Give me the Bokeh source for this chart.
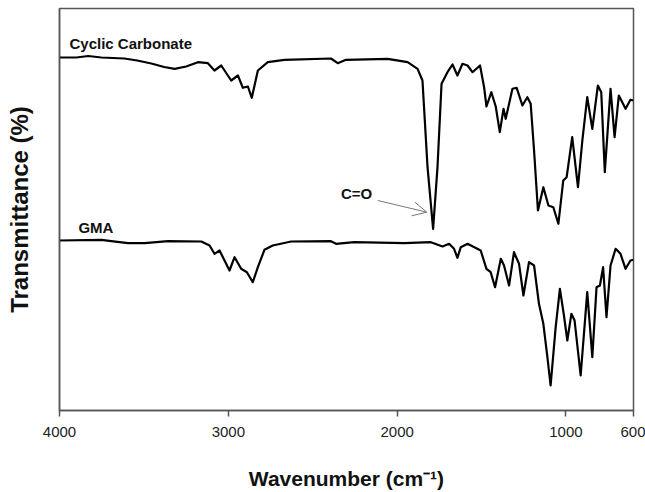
from bokeh.plotting import figure
from bokeh.models import Range1d, FixedTicker, Label, Arrow, OpenHead
from bokeh.embed import file_html
from bokeh.resources import INLINE

# Wavenumber (cm-1) and transmittance (arbitrary offset units)
cc_wn = [4000, 3900, 3830, 3752, 3616, 3540, 3456, 3380, 3318, 3250, 3180, 3121, 3082, 3042, 2983, 2943,
         2914, 2884, 2861, 2825, 2766, 2668, 2392, 2352, 2303, 2056, 1938, 1879, 1850,
         1820, 1787, 1761, 1737, 1702, 1672, 1643, 1613, 1583, 1554, 1509, 1485, 1471,
         1442, 1416, 1392, 1370, 1357, 1317, 1292, 1258, 1229, 1209, 1189, 1166, 1134,
         1104, 1075, 1045, 1016, 996, 963, 929, 903, 874, 844, 811, 791, 770, 736, 712,
         687, 647, 618, 600]
cc_t = [353, 353, 354.5, 353, 352, 350, 347, 343.5, 341.7, 344, 348.3, 347.3, 340, 345, 330, 335,
        322.7, 324, 312.7, 340, 348.3, 350.7, 352, 347.3, 350.7, 351.7, 348.3, 341.7, 330,
        243.3, 181.7, 243.3, 326.7, 338.3, 346, 335, 346.7, 345, 338.3, 345, 323.3, 304,
        318.3, 304, 278.3, 301.7, 291.7, 321.7, 322.7, 305, 313.3, 306.7, 260, 200, 223.3,
        205, 203.3, 186.7, 230, 233.3, 273.3, 223.3, 270, 313.3, 281.7, 325, 318.3, 238.3,
        321.7, 273.3, 315, 301.7, 310.7, 310]

gma_wn = [4000, 3752, 3693, 3594, 3496, 3357, 3160, 3111, 3082, 3052, 2993, 2963, 2924,
          2890, 2855, 2825, 2786, 2737, 2628, 2392, 2362, 2254, 1958, 1800, 1731, 1692,
          1663, 1643, 1623, 1583, 1505, 1471, 1446, 1420, 1386, 1367, 1337, 1308, 1278,
          1252, 1219, 1189, 1160, 1134, 1110, 1091, 1061, 1036, 1012, 992, 968, 949, 913,
          874, 844, 819, 799, 780, 760, 736, 706, 677, 647, 618, 600]
gma_t = [170, 170.7, 169.3, 167.3, 167.3, 169.3, 169, 165, 156.7, 160, 140, 153.3, 141.7,
         138.3, 128.3, 143.3, 160.7, 165, 169, 169.3, 166.7, 168.3, 167.3, 168.3, 164, 166.7,
         161.7, 152.7, 163.3, 166.7, 160, 141.7, 138.3, 123.3, 151.7, 145, 125, 158.3, 146.7,
         115, 148.3, 145, 106.7, 86.7, 53.3, 25, 83.3, 121.7, 95, 70, 96.7, 90, 35,
         118.3, 53.3, 123.3, 125, 143.3, 93.3, 145, 161.7, 156.7, 141.7, 150, 150.7]

x_ticks = [4000, 3000, 2000, 1000, 600]

FONT = "Liberation Sans"
GRAY = "#555555"

p = figure(width=645, height=492, output_backend="svg", toolbar_location=None,
           x_range=Range1d(4000, 600), y_range=Range1d(0, 402),
           min_border_left=59, min_border_right=12, min_border_top=8, min_border_bottom=82)
p.background_fill_color = "white"
p.border_fill_color = "white"
p.outline_line_color = GRAY
p.outline_line_width = 1.5
p.xgrid.visible = False
p.ygrid.visible = False

p.line(cc_wn, cc_t, line_color="black", line_width=2.2, line_join="round")
p.line(gma_wn, gma_t, line_color="black", line_width=2.2, line_join="round")

xa = p.xaxis[0]
xa.ticker = FixedTicker(ticks=x_ticks)
xa.minor_tick_line_color = None
xa.major_tick_in = 0
xa.major_tick_out = 6
xa.major_tick_line_color = GRAY
xa.major_tick_line_width = 1.5
xa.axis_line_color = GRAY
xa.axis_line_width = 1.5
xa.major_label_text_font = FONT
xa.major_label_text_font_size = "15px"
xa.major_label_text_color = "#222222"
xa.major_label_standoff = 10
xa.axis_label = "Wavenumber (cm\u207b\u00b9)"
xa.axis_label_text_font = FONT
xa.axis_label_text_font_style = "bold"
xa.axis_label_text_font_size = "21px"
xa.axis_label_text_color = "#111111"
xa.axis_label_standoff = 27

ya = p.yaxis[0]
ya.ticker = FixedTicker(ticks=[])
ya.minor_tick_line_color = None
ya.major_tick_in = 0
ya.major_tick_out = 0
ya.major_label_standoff = 0
ya.axis_line_color = GRAY
ya.axis_line_width = 1.5
ya.axis_label = "Transmittance (%)"
ya.axis_label_text_font = FONT
ya.axis_label_text_font_style = "bold"
ya.axis_label_text_font_size = "24px"
ya.axis_label_text_color = "#111111"
ya.axis_label_standoff = 27

for txt, xx, yy in [("Cyclic Carbonate", 3941, 367), ("GMA", 3888, 183), ("C=O", 2333, 217)]:
    p.add_layout(Label(x=xx, y=yy, text=txt, text_font=FONT, text_font_style="bold",
                       text_font_size="15px", text_color="#111111", text_baseline="middle"))

p.add_layout(Arrow(end=OpenHead(size=14, line_color="#777777", line_width=1),
                   x_start=2115, y_start=210, x_end=1824, y_end=198.3,
                   line_color="#777777", line_width=1))

open("out.html", "w").write(file_html(p, INLINE))
